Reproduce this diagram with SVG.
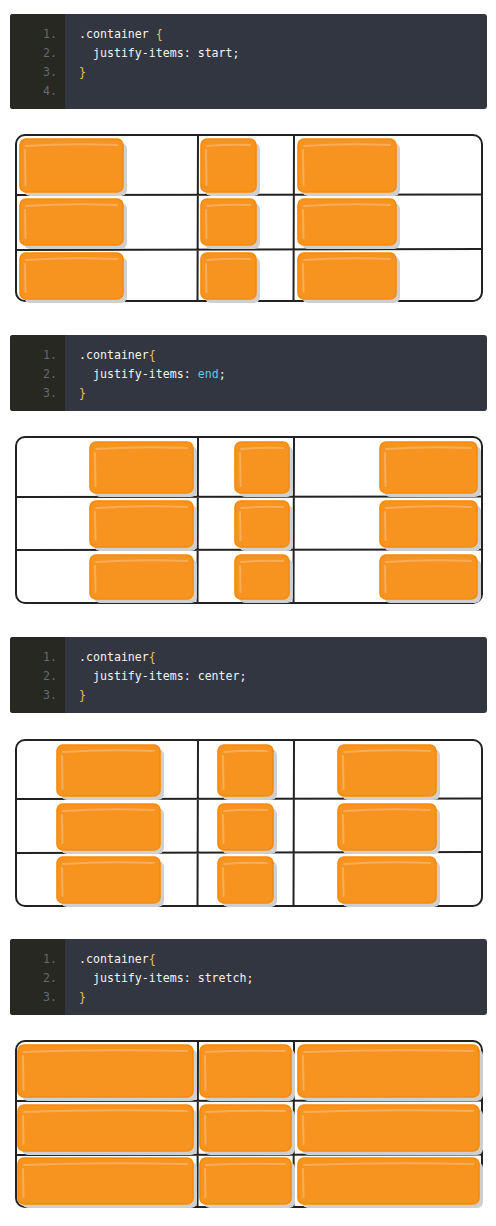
<svg xmlns="http://www.w3.org/2000/svg" width="496" height="1226" viewBox="0 0 496 1226">
<defs>
<style>
.code{fill:#313640}
.gut{fill:#272822}
.ln{font-family:"DejaVu Sans Mono","Liberation Mono",monospace;font-size:11.6px;fill:#666970;text-anchor:end}
.tx{font-family:"DejaVu Sans Mono","Liberation Mono",monospace;font-size:11.6px;fill:#f4f4ef;white-space:pre}
.br{fill:#e6c25a}
.kw{fill:#5fc9e6}
.frame{fill:#fff;stroke:#222;stroke-width:2}
.gl{stroke:#222;stroke-width:2;fill:none}
.sh{fill:#cfcfcf}
.it{fill:#f7941f;stroke:#f78a08;stroke-width:1.6}
.hl{fill:none;stroke:#fab063;stroke-width:2;stroke-linecap:round;opacity:.85}
</style>
</defs>

<!-- Code block 1 -->
<g id="code1">
<rect class="code" x="10" y="14" width="477" height="95" rx="3"/>
<path class="gut" d="M13,14 H65 V109 H13 A3,3 0 0 1 10,106 V17 A3,3 0 0 1 13,14 Z"/>
<text class="ln" x="57" y="38">1.</text>
<text class="ln" x="57" y="57">2.</text>
<text class="ln" x="57" y="76">3.</text>
<text class="ln" x="57" y="95">4.</text>
<text class="tx" x="79" y="38">.container <tspan class="br">{</tspan></text>
<text class="tx" x="79" y="57">  justify-items: start;</text>
<text class="tx" x="79" y="76"><tspan class="br">}</tspan></text>
</g>

<!-- Grid 1: start -->
<g id="grid1">
<rect class="frame" x="16" y="135" width="466" height="166" rx="9"/>
<path class="gl" d="M198,134 L197.5,302 M294,134 L293.5,302 M16,195 L482,194.5 M16,250 L482,249"/>
<g id="g1-items">
<rect class="sh" x="24" y="143" width="103" height="53" rx="6"/>
<rect class="it" x="20" y="139" width="103" height="53" rx="6"/>
<path class="hl" d="M26,146 Q70,143 117,145 M25,150 L25.5,185"/>
<rect class="sh" x="205" y="143" width="55" height="53" rx="6"/>
<rect class="it" x="201" y="139" width="55" height="53" rx="6"/>
<path class="hl" d="M207,146 Q228,144 250,145 M206,150 L206.5,185"/>
<rect class="sh" x="302" y="143" width="98" height="53" rx="6"/>
<rect class="it" x="298" y="139" width="98" height="53" rx="6"/>
<path class="hl" d="M304,146 Q345,143 390,145 M303,150 L303.5,185"/>

<rect class="sh" x="24" y="203" width="103" height="46" rx="6"/>
<rect class="it" x="20" y="199" width="103" height="46" rx="6"/>
<path class="hl" d="M26,206 Q70,203 117,205 M25,210 L25.5,238"/>
<rect class="sh" x="205" y="203" width="55" height="46" rx="6"/>
<rect class="it" x="201" y="199" width="55" height="46" rx="6"/>
<path class="hl" d="M207,206 Q228,204 250,205 M206,210 L206.5,238"/>
<rect class="sh" x="302" y="203" width="98" height="46" rx="6"/>
<rect class="it" x="298" y="199" width="98" height="46" rx="6"/>
<path class="hl" d="M304,206 Q345,203 390,205 M303,210 L303.5,238"/>

<rect class="sh" x="24" y="257" width="103" height="46" rx="6"/>
<rect class="it" x="20" y="253" width="103" height="46" rx="6"/>
<path class="hl" d="M26,260 Q70,257 117,259 M25,264 L25.5,292"/>
<rect class="sh" x="205" y="257" width="55" height="46" rx="6"/>
<rect class="it" x="201" y="253" width="55" height="46" rx="6"/>
<path class="hl" d="M207,260 Q228,258 250,259 M206,264 L206.5,292"/>
<rect class="sh" x="302" y="257" width="98" height="46" rx="6"/>
<rect class="it" x="298" y="253" width="98" height="46" rx="6"/>
<path class="hl" d="M304,260 Q345,257 390,259 M303,264 L303.5,292"/>
</g>
</g>

<!-- Code block 2 -->
<g id="code2">
<rect class="code" x="10" y="335" width="477" height="76" rx="3"/>
<path class="gut" d="M13,335 H65 V411 H13 A3,3 0 0 1 10,408 V338 A3,3 0 0 1 13,335 Z"/>
<text class="ln" x="57" y="359">1.</text>
<text class="ln" x="57" y="378">2.</text>
<text class="ln" x="57" y="397">3.</text>
<text class="tx" x="79" y="359">.container<tspan class="br">{</tspan></text>
<text class="tx" x="79" y="378">  justify-items: <tspan class="kw">end</tspan>;</text>
<text class="tx" x="79" y="397"><tspan class="br">}</tspan></text>
</g>

<!-- Grid 2: end -->
<g id="grid2">
<rect class="frame" x="16" y="437" width="466" height="166" rx="9"/>
<path class="gl" d="M198,436 L197.5,604 M294,436 L293.5,604 M16,497 L482,496.5 M16,550 L482,549.5"/>
<g id="g2-items">
<rect class="sh" x="94" y="446" width="103" height="51" rx="6"/>
<rect class="it" x="90" y="442" width="103" height="51" rx="6"/>
<path class="hl" d="M96,449 Q140,446 187,448 M95,453 L95.5,486"/>
<rect class="sh" x="239" y="446" width="54" height="51" rx="6"/>
<rect class="it" x="235" y="442" width="54" height="51" rx="6"/>
<path class="hl" d="M241,449 Q262,447 283,448 M240,453 L240.5,486"/>
<rect class="sh" x="384" y="446" width="97" height="51" rx="6"/>
<rect class="it" x="380" y="442" width="97" height="51" rx="6"/>
<path class="hl" d="M386,449 Q428,446 471,448 M385,453 L385.5,486"/>

<rect class="sh" x="94" y="505" width="103" height="46" rx="6"/>
<rect class="it" x="90" y="501" width="103" height="46" rx="6"/>
<path class="hl" d="M96,508 Q140,505 187,507 M95,512 L95.5,540"/>
<rect class="sh" x="239" y="505" width="54" height="46" rx="6"/>
<rect class="it" x="235" y="501" width="54" height="46" rx="6"/>
<path class="hl" d="M241,508 Q262,506 283,507 M240,512 L240.5,540"/>
<rect class="sh" x="384" y="505" width="97" height="46" rx="6"/>
<rect class="it" x="380" y="501" width="97" height="46" rx="6"/>
<path class="hl" d="M386,508 Q428,505 471,507 M385,512 L385.5,540"/>

<rect class="sh" x="94" y="559" width="103" height="44" rx="6"/>
<rect class="it" x="90" y="555" width="103" height="44" rx="6"/>
<path class="hl" d="M96,562 Q140,559 187,561 M95,566 L95.5,592"/>
<rect class="sh" x="239" y="559" width="54" height="44" rx="6"/>
<rect class="it" x="235" y="555" width="54" height="44" rx="6"/>
<path class="hl" d="M241,562 Q262,560 283,561 M240,566 L240.5,592"/>
<rect class="sh" x="384" y="559" width="97" height="44" rx="6"/>
<rect class="it" x="380" y="555" width="97" height="44" rx="6"/>
<path class="hl" d="M386,562 Q428,559 471,561 M385,566 L385.5,592"/>
</g>
</g>

<!-- Code block 3 -->
<g id="code3">
<rect class="code" x="10" y="637" width="477" height="76" rx="3"/>
<path class="gut" d="M13,637 H65 V713 H13 A3,3 0 0 1 10,710 V640 A3,3 0 0 1 13,637 Z"/>
<text class="ln" x="57" y="661">1.</text>
<text class="ln" x="57" y="680">2.</text>
<text class="ln" x="57" y="699">3.</text>
<text class="tx" x="79" y="661">.container<tspan class="br">{</tspan></text>
<text class="tx" x="79" y="680">  justify-items: center;</text>
<text class="tx" x="79" y="699"><tspan class="br">}</tspan></text>
</g>

<!-- Grid 3: center -->
<g id="grid3">
<rect class="frame" x="16" y="740" width="466" height="166" rx="9"/>
<path class="gl" d="M198,739 L197.5,907 M294,739 L293.5,907 M16,799 L482,798.5 M16,853 L482,852"/>
<g id="g3-items">
<rect class="sh" x="61" y="749" width="103" height="51" rx="6"/>
<rect class="it" x="57" y="745" width="103" height="51" rx="6"/>
<path class="hl" d="M63,752 Q107,749 154,751 M62,756 L62.5,789"/>
<rect class="sh" x="222" y="749" width="55" height="51" rx="6"/>
<rect class="it" x="218" y="745" width="55" height="51" rx="6"/>
<path class="hl" d="M224,752 Q245,750 267,751 M223,756 L223.5,789"/>
<rect class="sh" x="342" y="749" width="98" height="51" rx="6"/>
<rect class="it" x="338" y="745" width="98" height="51" rx="6"/>
<path class="hl" d="M344,752 Q385,749 430,751 M343,756 L343.5,789"/>

<rect class="sh" x="61" y="808" width="103" height="46" rx="6"/>
<rect class="it" x="57" y="804" width="103" height="46" rx="6"/>
<path class="hl" d="M63,811 Q107,808 154,810 M62,815 L62.5,843"/>
<rect class="sh" x="222" y="808" width="55" height="46" rx="6"/>
<rect class="it" x="218" y="804" width="55" height="46" rx="6"/>
<path class="hl" d="M224,811 Q245,809 267,810 M223,815 L223.5,843"/>
<rect class="sh" x="342" y="808" width="98" height="46" rx="6"/>
<rect class="it" x="338" y="804" width="98" height="46" rx="6"/>
<path class="hl" d="M344,811 Q385,808 430,810 M343,815 L343.5,843"/>

<rect class="sh" x="61" y="861" width="103" height="46" rx="6"/>
<rect class="it" x="57" y="857" width="103" height="46" rx="6"/>
<path class="hl" d="M63,864 Q107,861 154,863 M62,868 L62.5,896"/>
<rect class="sh" x="222" y="861" width="55" height="46" rx="6"/>
<rect class="it" x="218" y="857" width="55" height="46" rx="6"/>
<path class="hl" d="M224,864 Q245,862 267,863 M223,868 L223.5,896"/>
<rect class="sh" x="342" y="861" width="98" height="46" rx="6"/>
<rect class="it" x="338" y="857" width="98" height="46" rx="6"/>
<path class="hl" d="M344,864 Q385,861 430,863 M343,868 L343.5,896"/>
</g>
</g>

<!-- Code block 4 -->
<g id="code4">
<rect class="code" x="10" y="939" width="477" height="76" rx="3"/>
<path class="gut" d="M13,939 H65 V1015 H13 A3,3 0 0 1 10,1012 V942 A3,3 0 0 1 13,939 Z"/>
<text class="ln" x="57" y="963">1.</text>
<text class="ln" x="57" y="982">2.</text>
<text class="ln" x="57" y="1001">3.</text>
<text class="tx" x="79" y="963">.container<tspan class="br">{</tspan></text>
<text class="tx" x="79" y="982">  justify-items: stretch;</text>
<text class="tx" x="79" y="1001"><tspan class="br">}</tspan></text>
</g>

<!-- Grid 4: stretch -->
<g id="grid4">
<rect class="frame" x="16" y="1041" width="466" height="166" rx="9"/>
<path class="gl" d="M198,1040 L197.5,1208 M294,1040 L293.5,1208 M15,1101 L482,1100.5 M16,1155 L482,1154.5"/>
<g id="g4-items">
<rect class="sh" x="22" y="1049" width="175" height="52" rx="6"/>
<rect class="it" x="18" y="1045" width="175" height="52" rx="6"/>
<path class="hl" d="M24,1052 Q100,1049 187,1051 M23,1056 L23.5,1090"/>
<rect class="sh" x="204" y="1049" width="91" height="52" rx="6"/>
<rect class="it" x="200" y="1045" width="91" height="52" rx="6"/>
<path class="hl" d="M206,1052 Q245,1050 285,1051 M205,1056 L205.5,1090"/>
<rect class="sh" x="302" y="1049" width="181" height="52" rx="6"/>
<rect class="it" x="298" y="1045" width="181" height="52" rx="6"/>
<path class="hl" d="M304,1052 Q385,1049 473,1051 M303,1056 L303.5,1090"/>

<rect class="sh" x="22" y="1109" width="175" height="46" rx="6"/>
<rect class="it" x="18" y="1105" width="175" height="46" rx="6"/>
<path class="hl" d="M24,1112 Q100,1109 187,1111 M23,1116 L23.5,1144"/>
<rect class="sh" x="204" y="1109" width="91" height="46" rx="6"/>
<rect class="it" x="200" y="1105" width="91" height="46" rx="6"/>
<path class="hl" d="M206,1112 Q245,1110 285,1111 M205,1116 L205.5,1144"/>
<rect class="sh" x="302" y="1109" width="181" height="46" rx="6"/>
<rect class="it" x="298" y="1105" width="181" height="46" rx="6"/>
<path class="hl" d="M304,1112 Q385,1109 473,1111 M303,1116 L303.5,1144"/>

<rect class="sh" x="22" y="1162" width="175" height="46" rx="6"/>
<rect class="it" x="18" y="1158" width="175" height="46" rx="6"/>
<path class="hl" d="M24,1165 Q100,1162 187,1164 M23,1169 L23.5,1197"/>
<rect class="sh" x="204" y="1162" width="91" height="46" rx="6"/>
<rect class="it" x="200" y="1158" width="91" height="46" rx="6"/>
<path class="hl" d="M206,1165 Q245,1163 285,1164 M205,1169 L205.5,1197"/>
<rect class="sh" x="302" y="1162" width="181" height="46" rx="6"/>
<rect class="it" x="298" y="1158" width="181" height="46" rx="6"/>
<path class="hl" d="M304,1165 Q385,1162 473,1164 M303,1169 L303.5,1197"/>
</g>
</g>

<g id="connectors"/>
</svg>
